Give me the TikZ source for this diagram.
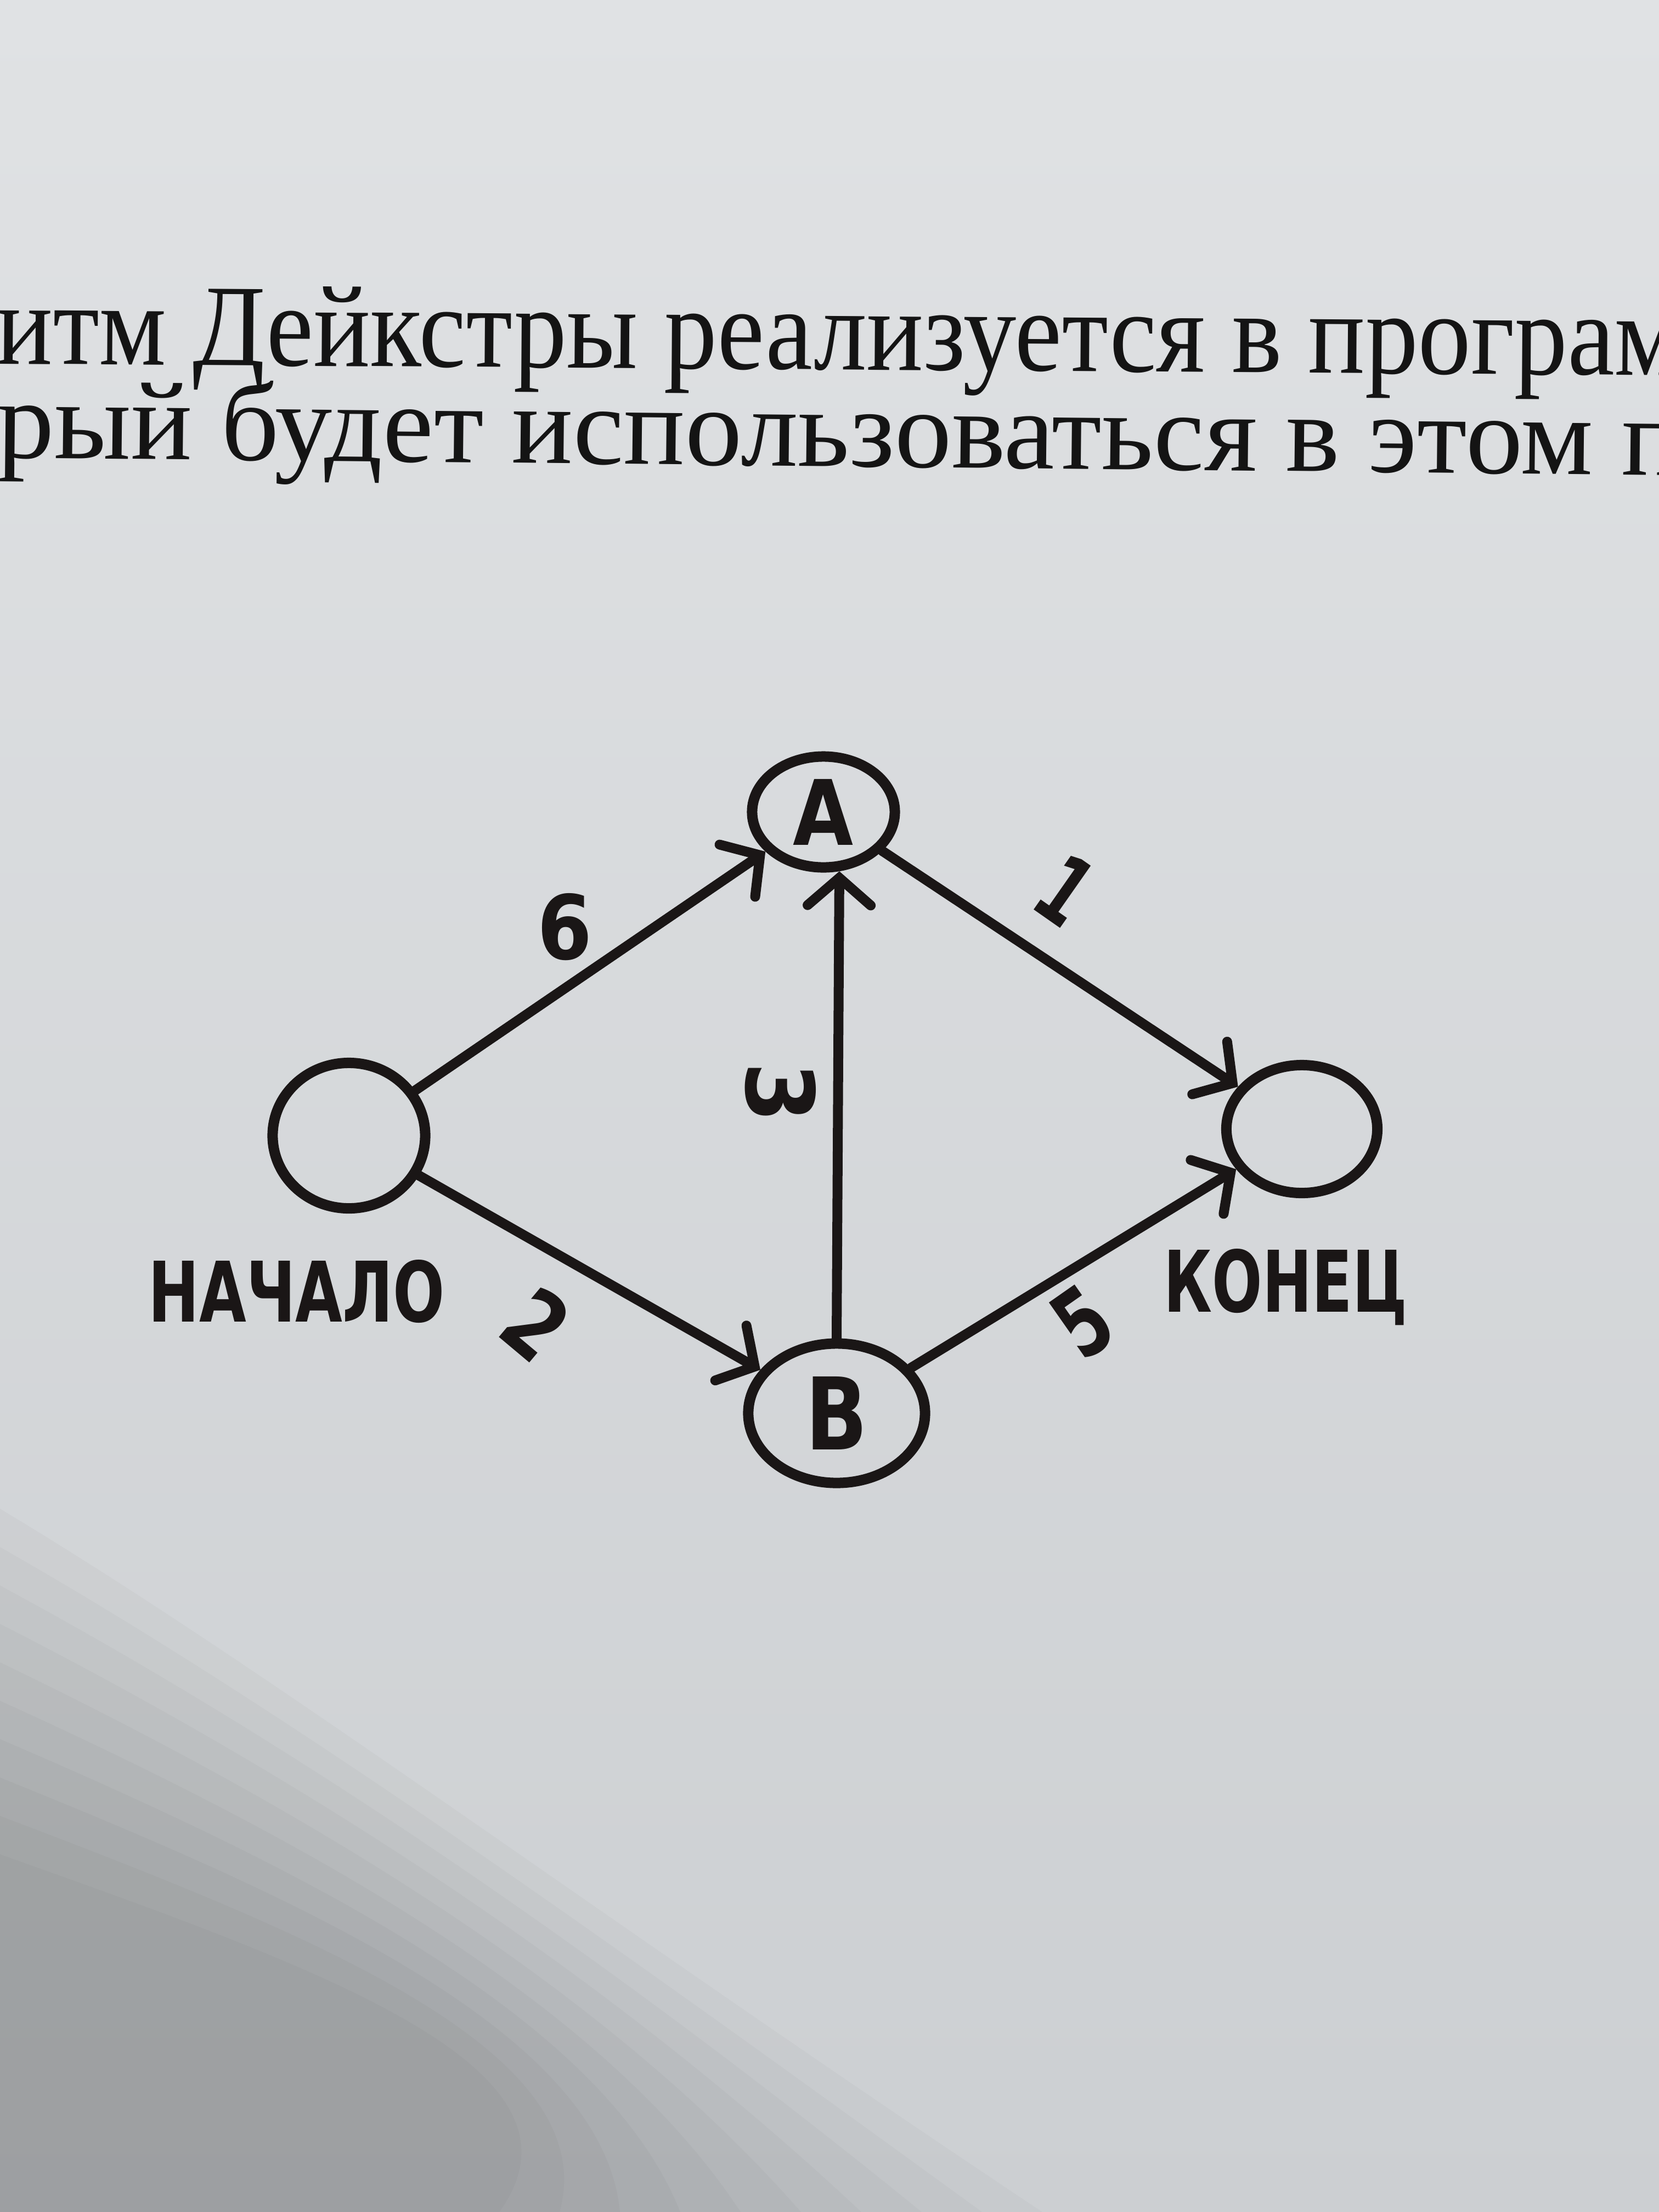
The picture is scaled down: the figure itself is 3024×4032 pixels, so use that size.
\documentclass[tikz,border=0pt]{standalone}
\usepackage{fontspec}
\setmainfont{Liberation Serif}
\newfontfamily\hand{DejaVu Sans}
\usetikzlibrary{shapes.geometric,arrows.meta}
\definecolor{ink}{RGB}{26,22,22}
\definecolor{paperT}{RGB}{224,226,228}
\definecolor{paperM}{RGB}{214,217,219}
\definecolor{paperB}{RGB}{204,207,210}
\newcommand\hw[3]{\resizebox{#1}{#2}{\hand\bfseries #3}}
\newcommand\pl[3]{\resizebox{#1}{#2}{#3}}
\tikzset{
  gnode/.style={ellipse, draw=ink, line width=0.19cm, inner sep=0pt, text=ink},
  edge/.style={draw=ink, line width=0.18cm, line cap=round,
    -{Straight Barb[length=0.5cm,width=1.15cm,line cap=round]}},
  lbl/.style={inner sep=0pt, text=ink},
  prose/.style={inner sep=0pt, anchor=base west, text=black!92}
}
\begin{document}
\begin{tikzpicture}[x=0.01cm,y=-0.01cm]
\useasboundingbox (0,0) rectangle (3024,4032);
\shade[top color=paperT, middle color=paperM, bottom color=paperB] (0,0) rectangle (3024,4032);
% soft shadow at the lower left
\foreach \k in {0,...,9}{
  \fill[black, opacity=0.022]
    (0,2750+\k*70) .. controls (500+\k*10,3050+\k*60) and (1100,3500+\k*30) .. (1900-\k*110,4032) -- (0,4032) -- cycle;
}

% prose lines
\node[prose, rotate=-0.4] (line1) at (-8,663) {\pl{30.7cm}{1.45cm}{итм Дейкстры реализуется в програм}};
\node[prose, rotate=-0.6] (line2) at (-6,834) {\pl{30.7cm}{1.45cm}{рый будет использоваться в этом п}};

% graph nodes
\node[gnode, minimum width=2.78cm, minimum height=2.65cm] (start) at (636,2070) {};
\node[gnode, minimum width=2.6cm, minimum height=2.02cm] (A) at (1501,1480) {\hw{1.1cm}{1.2cm}{A}};
\node[gnode, minimum width=3.22cm, minimum height=2.54cm] (B) at (1525,2576) {\hw{1.13cm}{1.33cm}{B}};
\node[gnode, minimum width=2.75cm, minimum height=2.33cm] (end) at (2373,2058) {};

% edges
\draw[edge] (start) -- (A);
\draw[edge] (start) -- (B);
\draw[edge] (B.north) -- (A.-75);
\draw[edge] (A) -- (end);
\draw[edge] (B) -- (end);

% weights
\node[lbl] (w6) at (1030,1690) {\hw{1.0cm}{1.2cm}{6}};
\node[lbl, rotate=-35] (w1) at (1942,1622) {\hw{0.8cm}{1.25cm}{1}};
\node[lbl, rotate=-90] (w3) at (1423,1992) {\hw{1.1cm}{1.27cm}{3}};
\node[lbl, rotate=-40] (w2) at (978,2413) {\hw{0.95cm}{1.25cm}{2}};
\node[lbl, rotate=35] (w5) at (1973,2410) {\hw{0.85cm}{1.25cm}{5}};

% captions
\node[lbl, anchor=base west] (tstart) at (270,2409) {\hw{5.4cm}{1.13cm}{НАЧАЛО}};
\node[lbl, anchor=base west] (tend) at (2121,2391) {\hw{4.43cm}{1.15cm}{КОНЕЦ}};
\end{tikzpicture}
\end{document}
